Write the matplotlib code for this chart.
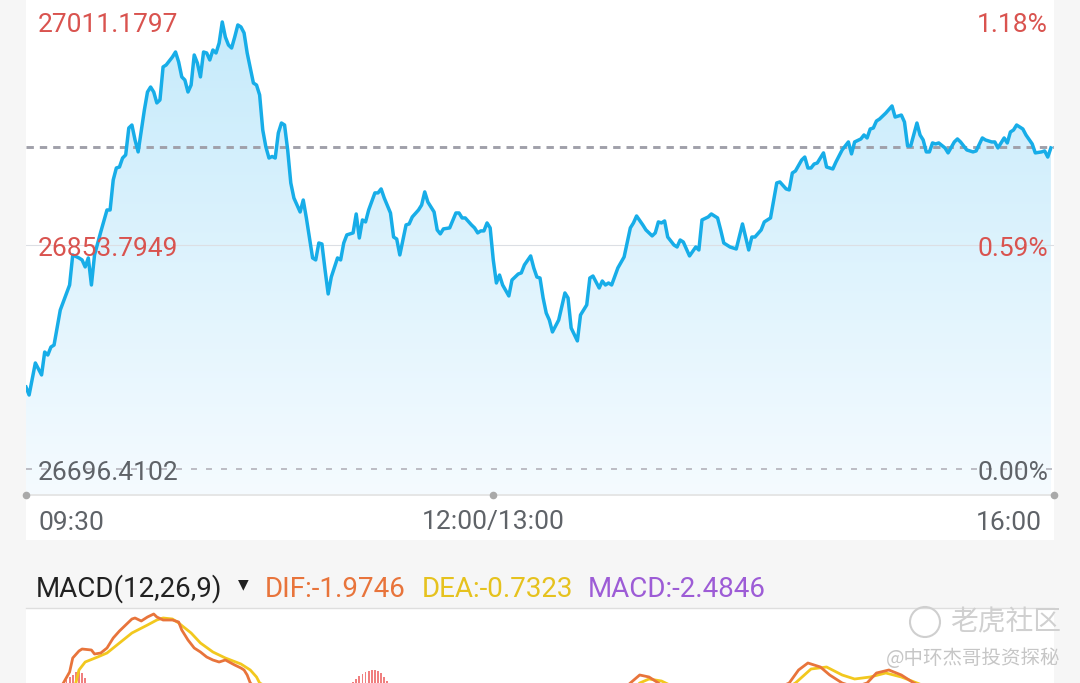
import numpy as np
import matplotlib
matplotlib.use('Agg')
import matplotlib.pyplot as plt
from matplotlib.colors import LinearSegmentedColormap
from matplotlib.patches import Rectangle, Circle
from matplotlib.transforms import ScaledTranslation

# intraday index, minutes since 09:30 (lunch break removed, 330 min session)
minutes = [
    0, 1, 3, 5, 6, 7, 8, 9, 11, 14,
    15, 17, 18, 19, 20, 21, 22, 24, 26, 27,
    28, 29, 30, 31, 32, 33, 34, 35, 36, 38,
    39, 40, 41, 42, 43, 44, 45, 47, 48, 49,
    50, 51, 52, 53, 54, 55, 56, 57, 58, 59,
    60, 61, 62, 63, 64, 65, 66, 67, 68, 69,
    70, 71, 73, 74, 75, 76, 77, 78, 79, 80,
    81, 82, 83, 84, 85, 86, 88, 89, 90, 92,
    93, 94, 95, 96, 97, 98, 100, 101, 102, 103,
    105, 106, 107, 108, 109, 110, 112, 113, 114, 115,
    117, 118, 119, 120, 121, 122, 123, 124, 126, 127,
    128, 129, 131, 132, 133, 134, 136, 138, 139, 140,
    141, 143, 144, 145, 146, 147, 148, 149, 150, 151,
    152, 153, 155, 156, 158, 159, 160, 162, 163, 164,
    165, 166, 167, 168, 169, 171, 173, 174, 175, 177,
    178, 180, 181, 182, 184, 185, 186, 187, 188, 190,
    192, 194, 195, 196, 198, 199, 201, 202, 203, 204,
    205, 206, 208, 209, 210, 211, 213, 215, 216, 217,
    219, 220, 222, 223, 224, 226, 228, 230, 232, 233,
    234, 236, 237, 239, 241, 242, 244, 245, 246, 247,
    249, 250, 251, 252, 253, 254, 256, 257, 259, 260,
    262, 264, 265, 266, 268, 269, 270, 271, 272, 273,
    274, 276, 278, 279, 281, 282, 283, 284, 286, 287,
    288, 289, 290, 291, 292, 293, 295, 296, 298, 299,
    300, 302, 304, 305, 307, 308, 310, 311, 312, 314,
    315, 316, 317, 318, 320, 321, 323, 324, 326, 327,
    328, 329,
]
prices = [
    26754.0, 26748.4, 26770.9, 26762.5, 26778.6, 26776.5, 26782.1, 26783.5, 26808.1, 26825.7,
    26846.8, 26844.7, 26843.3, 26838.4, 26844.7, 26825.7, 26846.8, 26863.0, 26878.4, 26878.4,
    26899.5, 26907.9, 26908.6, 26914.9, 26917.1, 26936.0, 26938.1, 26927.6, 26919.2, 26948.7,
    26961.3, 26964.8, 26961.3, 26953.6, 26955.7, 26978.9, 26980.3, 26985.9, 26989.4, 26982.4,
    26971.9, 26969.7, 26961.3, 26966.2, 26987.3, 26981.7, 26971.9, 26989.4, 26988.7, 26983.8,
    26990.8, 26988.7, 26995.7, 27010.5, 26999.9, 26994.3, 26992.2, 26999.9, 27008.4, 27007.0,
    27002.8, 26988.7, 26967.6, 26966.2, 26959.2, 26934.6, 26922.7, 26914.9, 26916.0, 26914.9,
    26932.5, 26939.5, 26938.1, 26920.6, 26897.4, 26886.8, 26877.0, 26885.4, 26872.8, 26844.7,
    26843.3, 26855.2, 26854.5, 26836.3, 26819.4, 26831.3, 26844.7, 26843.3, 26855.2, 26860.9,
    26862.3, 26875.6, 26858.7, 26871.4, 26870.0, 26878.4, 26890.4, 26890.4, 26893.2, 26886.8,
    26876.3, 26859.4, 26858.0, 26846.8, 26857.3, 26867.9, 26868.6, 26873.5, 26878.4, 26881.9,
    26891.1, 26884.0, 26877.0, 26864.4, 26861.6, 26865.1, 26865.8, 26876.3, 26876.3, 26872.8,
    26872.8, 26867.9, 26865.8, 26862.3, 26863.7, 26863.7, 26869.3, 26865.8, 26843.3, 26827.1,
    26832.7, 26825.7, 26818.0, 26829.2, 26833.4, 26834.2, 26839.8, 26846.1, 26837.7, 26831.3,
    26830.6, 26816.6, 26806.0, 26801.1, 26792.7, 26801.1, 26820.1, 26816.6, 26795.5, 26786.4,
    26804.6, 26811.7, 26830.6, 26832.0, 26823.6, 26828.5, 26825.7, 26827.1, 26825.7, 26837.7,
    26845.4, 26865.8, 26869.3, 26874.2, 26867.9, 26864.4, 26860.2, 26862.3, 26870.0, 26869.3,
    26870.7, 26859.4, 26853.8, 26852.4, 26857.3, 26855.9, 26846.1, 26852.4, 26850.3, 26871.4,
    26873.5, 26875.6, 26872.8, 26864.4, 26855.2, 26852.4, 26851.0, 26868.6, 26850.3, 26859.4,
    26859.4, 26864.4, 26870.0, 26872.8, 26897.4, 26898.1, 26893.2, 26892.5, 26904.4, 26905.8,
    26913.5, 26915.6, 26907.9, 26907.9, 26910.7, 26911.4, 26918.5, 26908.6, 26907.2, 26912.1,
    26920.6, 26926.2, 26917.8, 26926.2, 26928.3, 26931.1, 26929.0, 26935.3, 26936.0, 26940.9,
    26942.3, 26946.5, 26951.5, 26943.7, 26945.1, 26940.2, 26923.4, 26923.4, 26939.5, 26931.1,
    26927.6, 26919.2, 26919.2, 26925.5, 26924.8, 26925.5, 26922.0, 26918.5, 26926.2, 26928.3,
    26926.2, 26920.6, 26919.2, 26919.9, 26929.0, 26927.6, 26926.2, 26926.2, 26922.0, 26929.0,
    26925.5, 26933.2, 26934.6, 26938.1, 26935.3, 26931.1, 26924.8, 26918.5, 26919.2, 26919.9,
    26915.6, 26922.0,
]
assert len(minutes) == len(prices)

prev_close = 26922.65
price_ticks = [27011.1797, 26853.7949, 26696.4102]
pct_labels = ['1.18%', '0.59%', '0.00%']
time_ticks = [0, 150, 330]
time_labels = ['09:30', '12:00/13:00', '16:00']

# MACD panel (only the top of it is visible in the screenshot)
dif_min = [0, 6, 12, 14, 15, 17, 18, 21, 22, 24, 26, 28, 30, 32, 34, 35, 37, 39, 41, 42,
           44, 47, 49, 50, 52, 54, 56, 58, 60, 62, 64, 67, 69, 70, 71, 72, 76, 85, 95, 105,
           112, 118, 130, 150, 165, 178, 188, 194, 197, 200, 203, 208, 220, 232, 240, 245,
           248, 251, 255, 258, 262, 266, 270, 273, 277, 281, 285, 295, 310, 320, 329]
dif_val = [0, 2.5, 5.2, 6.3, 7.7, 8.4, 8.6, 8.5, 8.1, 8.2, 8.7, 9.7, 10.4, 11.0, 11.6, 11.7,
           11.4, 11.8, 12.1, 11.8, 11.5, 11.5, 11.3, 10.5, 9.5, 8.7, 8.3, 7.8, 7.5, 7.3, 7.5,
           7.0, 6.7, 6.5, 6.0, 5.2, 4.0, 2.0, 1.0, 3.0, 4.5, 3.8, 2.0, 0.5, -1.0, 0.5, 3.5,
           5.2, 6.0, 5.8, 5.2, 4.0, 2.5, 3.5, 4.5, 5.2, 6.5, 7.2, 6.8, 6.0, 5.2, 4.8, 5.2,
           6.2, 6.5, 6.0, 5.2, 3.5, 1.0, -0.5, -1.9746]
dea_min = [0, 10, 16, 17, 19, 23, 26, 30, 34, 39, 42, 44, 47, 49, 53, 56, 60, 64, 69, 72,
           74, 75, 85, 100, 112, 125, 145, 165, 180, 190, 197, 200, 204, 208, 225, 240, 247,
           252, 257, 262, 266, 271, 276, 281, 286, 300, 315, 329]
dea_val = [0, 2.5, 5.2, 6.5, 7.3, 7.8, 8.2, 9.2, 10.2, 11.0, 11.5, 11.7, 11.6, 11.2, 10.2,
           9.2, 8.3, 7.7, 7.1, 6.5, 5.8, 5.2, 3.5, 2.0, 2.5, 2.8, 1.8, 0.5, 0.8, 2.8, 5.2,
           5.6, 5.4, 4.8, 3.5, 4.0, 5.2, 6.6, 6.8, 6.0, 5.6, 5.8, 6.2, 5.8, 5.2, 3.5, 1.0,
           -0.7323]
hist_min = [11, 12, 13, 14, 15, 16, 17, 18, 19, 20,
            104, 105, 106, 107, 108, 109, 110, 111, 112, 113, 114, 115, 116, 117, 118]
hist_val = [5.0, 5.2, 5.5, 5.8, 6.0, 6.3, 6.4, 6.2, 5.7, 5.0,
            5.0, 5.3, 5.6, 5.9, 6.1, 6.3, 6.4, 6.5, 6.5, 6.4, 6.2, 5.8, 5.4, 5.2, 5.0]
macd_last = -2.4846

plt.rcParams['font.family'] = ['Roboto', 'DejaVu Sans']
plt.rcParams['lines.scale_dashes'] = False

W, H = 1080, 683
fig = plt.figure(figsize=(W / 100, H / 100), dpi=100, facecolor='#f6f6f6')


def fx(px):
    return px / W


def fy(py):
    return 1 - py / H


def px_off(dx, dy):
    return ScaledTranslation(dx / 100, -dy / 100, fig.dpi_scale_trans)


RED = '#d9534f'
GREY = '#5f6368'

# white card behind the price chart
fig.add_artist(Rectangle((fx(26), fy(540)), fx(1028), 540 / H, transform=fig.transFigure,
                         facecolor='white', edgecolor='none', zorder=-1))

ax = fig.add_axes([fx(26), fy(495), fx(1028), 495 / H])
ax.set_axis_off()
# labels sit at pixel rows 21 and 469 of a 495 px tall plot
per_px = (price_ticks[0] - price_ticks[2]) / (469 - 21)
y0 = price_ticks[2] - 26 * per_px
y1 = price_ticks[0] + 21 * per_px

poly = ax.fill_between(minutes, prices, y0, facecolor='none', edgecolor='none')
cmap = LinearSegmentedColormap.from_list('fade', ['#f5fbff', '#c4eafb'])
grad = np.linspace(1, 0, 256).reshape(-1, 1)
im = ax.imshow(grad, extent=[0, 330, y0, y1], aspect='auto', cmap=cmap, origin='upper', zorder=1)
im.set_clip_path(poly.get_paths()[0], transform=ax.transData)

ax.axhline(price_ticks[1], color='#dcdfe4', lw=0.8, zorder=1.5)
ax.axhline(prev_close, color='#a0a0aa', lw=2.1, dashes=(5.3, 4.3), zorder=2)
ax.axhline(price_ticks[2], color='#bcbcc4', lw=1.4, dashes=(4.3, 6.5), zorder=2)
ax.plot(minutes, prices, color='#17ade8', lw=2.5, solid_joinstyle='round', zorder=3)

ax.set_xlim(0, 330)
ax.set_ylim(y0, y1)

ax.axhline(y0, color='#e2e2e2', lw=1.2, clip_on=False, zorder=4)
ax.scatter(time_ticks, [y0] * len(time_ticks), s=20, color='#a9a9a9', clip_on=False, zorder=5)

ytr = ax.get_yaxis_transform() + px_off(0, 10.5)
label_cols = [RED, RED, GREY]
for val, pct, col in zip(price_ticks, pct_labels, label_cols):
    ax.text(0.0117, val, f'{val:.4f}', transform=ytr, ha='left', va='baseline',
            fontsize=19, color=col, zorder=6)
    ax.text(0.9942, val, pct, transform=ytr, ha='right', va='baseline',
            fontsize=19, color=col, zorder=6)

xtr = ax.get_xaxis_transform()
for t, lab, ha, dx in zip(time_ticks, time_labels, ['left', 'center', 'right'], [12, 0, -12]):
    ax.text(t, 0, lab, transform=xtr + px_off(dx, 34.5), ha=ha, va='baseline',
            fontsize=19, color=GREY)

# MACD header
fig.text(fx(36), fy(597), 'MACD(12,26,9)', fontsize=20, color='#212121', va='baseline')
fig.text(fx(243), fy(584), '\u25bc', fontsize=10, color='#212121', ha='center', va='center',
         family='DejaVu Sans')
fig.text(fx(265), fy(597), f'DIF:{dif_val[-1]:.4f}', fontsize=20, color='#e8743b', va='baseline')
fig.text(fx(422), fy(597), f'DEA:{dea_val[-1]:.4f}', fontsize=20, color='#e6c21e', va='baseline')
fig.text(fx(588), fy(597), f'MACD:{macd_last:.4f}', fontsize=20, color='#9d5cd6', va='baseline')

mx = fig.add_axes([fx(26), 0, fx(1028), 75 / H])
mx.set_facecolor('white')
for s in ['left', 'right', 'bottom']:
    mx.spines[s].set_visible(False)
mx.spines['top'].set_color('#dedede')
mx.spines['top'].set_linewidth(1)
mx.set_xticks([])
mx.set_yticks([])
mx.bar(hist_min, hist_val, width=0.6, color='#f07f7f', zorder=1)
mx.plot(dif_min, dif_val, color='#e8743b', lw=2.0, zorder=3)
mx.plot(dea_min, dea_val, color='#f2c81e', lw=2.0, zorder=2)
mx.set_xlim(0, 330)
mx.set_ylim(5.2, 12.7)

# watermark
fig.add_artist(Circle((9.25, (H - 622) / 100), 0.15, transform=fig.dpi_scale_trans,
                      fill=False, edgecolor='#cfcfcf', lw=1.5, zorder=10))
fig.text(fx(950), fy(622), '老虎社区', fontsize=20, color='#d0d0d0', va='center', ha='left',
         family=['Noto Sans CJK SC', 'DejaVu Sans'], zorder=10)
fig.text(fx(1060), fy(658), '@中环杰哥投资探秘', fontsize=14, color='#c6c6c6', va='center',
         ha='right', family=['Noto Sans CJK SC', 'DejaVu Sans'], zorder=10)

fig.savefig('out.png', dpi=100, facecolor=fig.get_facecolor())
